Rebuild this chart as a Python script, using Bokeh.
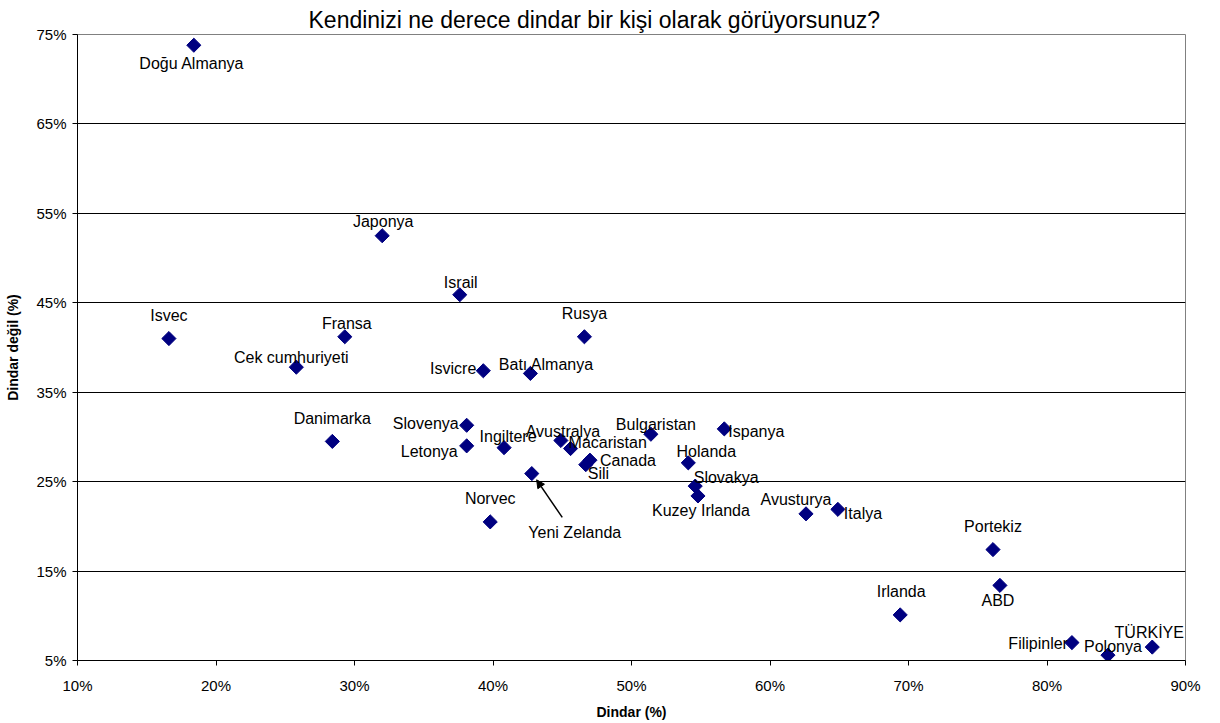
import math
from bokeh.plotting import figure
from bokeh.models import ColumnDataSource, LabelSet, Arrow, NormalHead, PrintfTickFormatter, FixedTicker, Range1d
from bokeh.core.properties import value
from bokeh.embed import file_html
from bokeh.resources import INLINE

countries = ["Doğu Almanya", "Japonya", "Israil", "Isvec", "Fransa", "Rusya", "Cek cumhuriyeti",
             "Isvicre", "Batı Almanya", "Danimarka", "Slovenya", "Letonya", "Ingiltere", "Avustralya",
             "Macaristan", "Canada", "Sili", "Yeni Zelanda", "Norvec", "Bulgaristan", "Ispanya",
             "Holanda", "Slovakya", "Kuzey Irlanda", "Avusturya", "Italya", "Portekiz", "ABD",
             "Irlanda", "Filipinler", "Polonya", "TÜRKİYE"]
dindar = [18.4, 32.0, 37.6, 16.6, 29.3, 46.6, 25.8,
          39.3, 42.7, 28.4, 38.1, 38.1, 40.8, 44.9,
          45.6, 47.0, 46.7, 42.8, 39.8, 51.4, 56.7,
          54.1, 54.6, 54.8, 62.6, 64.9, 76.1, 76.6,
          69.4, 81.8, 84.4, 87.6]
dindar_degil = [73.8, 52.5, 45.9, 41.0, 41.2, 41.2, 37.8,
                37.4, 37.1, 29.5, 31.3, 29.0, 28.8, 29.6,
                28.7, 27.4, 26.9, 25.9, 20.5, 30.3, 30.9,
                27.1, 24.5, 23.4, 21.4, 21.9, 17.4, 13.4,
                10.1, 7.0, 5.6, 6.5]
x_ticks = [10, 20, 30, 40, 50, 60, 70, 80, 90]
y_ticks = [5, 15, 25, 35, 45, 55, 65, 75]
title_text = "Kendinizi ne derece dindar bir kişi olarak görüyorsunuz?"

# label placement (screen pixels: dx right, dy down) and alignment
lab_dx = [-2, 1, 1, 0, 2, 0, -5, -7, 16, 0, -8, -9, 4, 2, -2, 10, 2, 43, 0, 5, 4, 18, 31, 3, -10, 6, 0, -2, 1, -4, 5, -3]
lab_dy = [18, -14, -12, -23, -13, -23, -10, -2, -9, -23, -2, 6, -11, -9, -6, 0, 9, 59, -23, -10, 3, -11, -9, 15, -14, 4, -23, 15, -23, 1, -9, -15]
lab_align = ["center", "center", "center", "center", "center", "center", "center", "right", "center",
             "center", "right", "right", "center", "center", "left", "left", "left", "center", "center",
             "center", "left", "center", "center", "center", "center", "left", "center", "center",
             "center", "right", "center", "center"]

src = ColumnDataSource(dict(x=dindar, y=dindar_degil, name=countries,
                            dx=lab_dx, dy=[-d for d in lab_dy], align=lab_align))

p = figure(width=1215, height=723, output_backend="svg", toolbar_location=None,
           x_range=Range1d(10, 90), y_range=Range1d(5, 75),
           min_border_left=77, min_border_right=30, min_border_top=34, min_border_bottom=63)
p.background_fill_color = "white"
p.border_fill_color = "white"
p.outline_line_color = "#808080"
p.outline_line_width = 1

p.title.text = title_text
p.title.align = "left"
p.title.offset = 231
p.title.text_font = "Liberation Sans"
p.title.text_font_style = "normal"
p.title.text_font_size = "23px"
p.title.text_color = "black"
p.title.standoff = 4
p.title.text_line_height = 1.0

p.xgrid.visible = False
p.ygrid.grid_line_color = "#000000"
p.ygrid.grid_line_width = 1
p.ygrid.ticker = FixedTicker(ticks=y_ticks)

for ax in (p.xaxis[0], p.yaxis[0]):
    ax.axis_line_color = "black"
    ax.major_tick_line_color = "black"
    ax.minor_tick_line_color = None
    ax.major_tick_in = 0
    ax.major_tick_out = 5
    ax.major_label_text_font = "Liberation Sans"
    ax.major_label_text_font_size = "15px"
    ax.major_label_text_color = "black"
    ax.axis_label_text_font = "Liberation Sans"
    ax.axis_label_text_font_style = "bold"
    ax.axis_label_text_font_size = "14px"
    ax.axis_label_text_color = "black"
    ax.formatter = PrintfTickFormatter(format="%d%%")

p.xaxis.ticker = FixedTicker(ticks=x_ticks)
p.yaxis.ticker = FixedTicker(ticks=y_ticks)
p.xaxis.axis_label = "Dindar (%)"
p.yaxis.axis_label = "Dindar değil (%)"
p.xaxis.major_label_standoff = 11
p.yaxis.major_label_standoff = 6
p.xaxis.axis_label_standoff = 7
p.yaxis.axis_label_standoff = 12

p.scatter("x", "y", source=src, marker="square", size=10, angle=math.pi / 4,
          fill_color="#000080", line_color="#000080")

labels = LabelSet(x="x", y="y", text="name", source=src, x_offset="dx", y_offset="dy",
                  text_align="align", text_baseline="middle", text_font=value("Liberation Sans"),
                  text_font_size=value("16px"), text_color=value("black"))
p.add_layout(labels)

# arrow for Yeni Zelanda
i = countries.index("Yeni Zelanda")
p.add_layout(Arrow(end=NormalHead(size=8, fill_color="black", line_color="black"),
                   x_start=dindar[i] + 2.2, y_start=dindar_degil[i] - 4.9,
                   x_end=dindar[i] + 0.35, y_end=dindar_degil[i] - 0.7,
                   line_color="black", line_width=1.5))

open("out.html", "w").write(file_html(p, INLINE))
